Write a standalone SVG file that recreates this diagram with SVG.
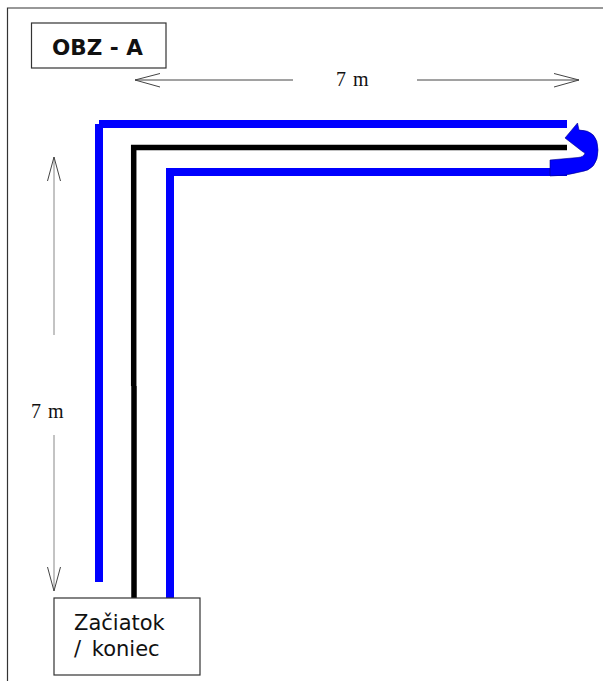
<svg xmlns="http://www.w3.org/2000/svg" width="603" height="681" viewBox="0 0 603 681">
<style>
.box{fill:#fff;stroke:#333;stroke-width:1.2}
.dim{fill:none;stroke:#444;stroke-width:1}
.stem{fill:none;stroke:#888;stroke-width:1}
.blue{fill:none;stroke:#0000ff;stroke-width:8}
.black{fill:none;stroke:#000;stroke-width:5.500}
.t{font-family:"Liberation Serif",serif;font-size:20px;word-spacing:2px;fill:#111}
.s{font-family:"DejaVu Sans",sans-serif;font-size:21px;word-spacing:4px;fill:#111}
.b{font-family:"DejaVu Sans",sans-serif;font-size:21.500px;font-weight:700;fill:#111}
</style>
<rect width="603" height="681" fill="#fff"/>
<path d="M7.500 681V8H603" fill="none" stroke="#333" stroke-width="1.2"/>
<g id="connectors">
<path class="blue" d="M99 582V124"/>
<path class="blue" d="M99 124H567"/>
<path class="black" d="M133.700 386V147.500H567"/>
<path class="black" d="M134 386V598"/>
<path class="blue" d="M170 598V172H567"/>
<path d="M550 176V160L578 157.500Q584 157 585 153L582.700 151.700L565 138L577.500 123L579 130Q598 130 598 150Q598 170 580 172Q566 176 550 176Z" fill="#0000ff" stroke="#00008a" stroke-width="0.6"/>
<path class="dim" d="M293 80H135M160 73.500L135 80L160 87"/>
<path class="dim" d="M417 80H579M554 73.500L579 80L554 87"/>
<path class="stem" d="M54 335V157"/>
<path class="dim" d="M47.500 181L54 157L60.500 181"/>
<path class="stem" d="M54 435V591"/>
<path class="dim" d="M47.500 567L54 591L60.500 567"/>
</g>
<g id="title"><rect class="box" x="31.500" y="23" width="134.500" height="45"/><text class="b" x="52" y="55">OBZ - A</text></g>
<g id="label-top"><text class="t" x="336" y="86">7 m</text></g>
<g id="label-left"><text class="t" x="31" y="418">7 m</text></g>
<g id="start"><rect class="box" x="54" y="598" width="146" height="77"/><text class="s" x="74" y="630">Začiatok</text><text class="s" x="74" y="656">/ koniec</text></g>
</svg>
